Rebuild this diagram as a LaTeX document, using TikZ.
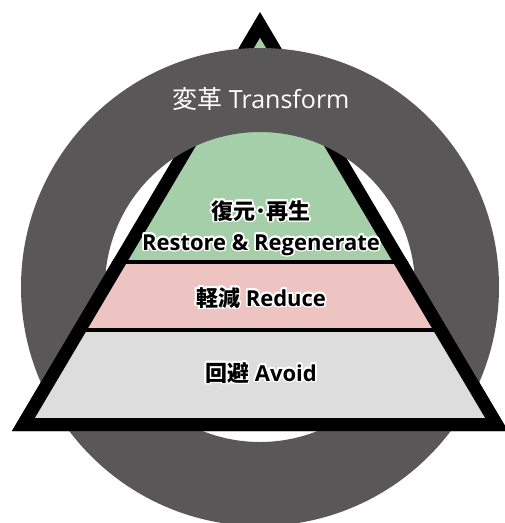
\documentclass[tikz,border=0pt]{standalone}
\usepackage{fontspec}
\usepackage{contour}
\setmainfont{Open Sans}
\newfontfamily\cjk{Noto Sans CJK JP}
\usetikzlibrary{calc}
\definecolor{ringgray}{HTML}{595757}
\definecolor{restgreen}{HTML}{A5CFA8}
\definecolor{redpink}{HTML}{EEC4C2}
\definecolor{avoidgray}{HTML}{DCDDDC}
\contourlength{1.6pt}
\tikzstyle{pyredge}=[draw=black, line width=13pt, miter limit=20, line join=miter]
\tikzstyle{pyrsep}=[draw=black, line width=4pt]
\tikzstyle{layertext}=[anchor=base, font=\bfseries\fontsize{22}{24}\selectfont, text=black, inner sep=0pt]
\tikzstyle{ringtext}=[anchor=base, font=\fontsize{25}{28}\selectfont, text=white, inner sep=0pt]
\newcommand\drawpyramid{%
 \fill[restgreen] (A) -- (gl) -- (gr) -- cycle;
 \fill[redpink] (gl) -- (pl) -- (pr) -- (gr) -- cycle;
 \fill[avoidgray] (pl) -- (L) -- (R) -- (pr) -- cycle;
 \draw[pyrsep] (gl) -- (gr);
 \draw[pyrsep] (pl) -- (pr);
 \draw[pyredge] (A) -- (L) -- (R) -- cycle;
}

\begin{document}
\begin{tikzpicture}[x=1pt, y=-1pt]
\useasboundingbox (0,0) rectangle (505,523);

\coordinate (A) at (260,24.8);
\coordinate (L) at (23.4,424.5);
\coordinate (R) at (496.6,424.5);
\coordinate (gl) at ($(A)!0.5935!(L)$);
\coordinate (gr) at ($(A)!0.5935!(R)$);
\coordinate (pl) at ($(A)!0.7635!(L)$);
\coordinate (pr) at ($(A)!0.7635!(R)$);
\coordinate (C) at (260,287);

\drawpyramid
% ring passes over the top of the pyramid
\fill[ringgray, even odd rule] (C) circle[radius=239pt] (C) circle[radius=155pt];
% and under its lower part
\begin{scope}
 \clip (0,258) rectangle (505,523);
 \drawpyramid
\end{scope}

\node (TRANS) [ringtext] at (261,108) {{\cjk 変革} Transform};
\node (RESTJ) [layertext] at (261,219) {\contour{white}{{\cjk\bfseries 復元･再生}}};
\node (RESTE) [layertext] at (261,250) {\contour{white}{Restore \& Regenerate}};
\node (REDU) [layertext] at (261,306) {\contour{white}{{\cjk\bfseries 軽減} Reduce}};
\node (AVOID) [layertext] at (261,381) {\contour{white}{{\cjk\bfseries 回避} Avoid}};

\end{tikzpicture}
\end{document}
